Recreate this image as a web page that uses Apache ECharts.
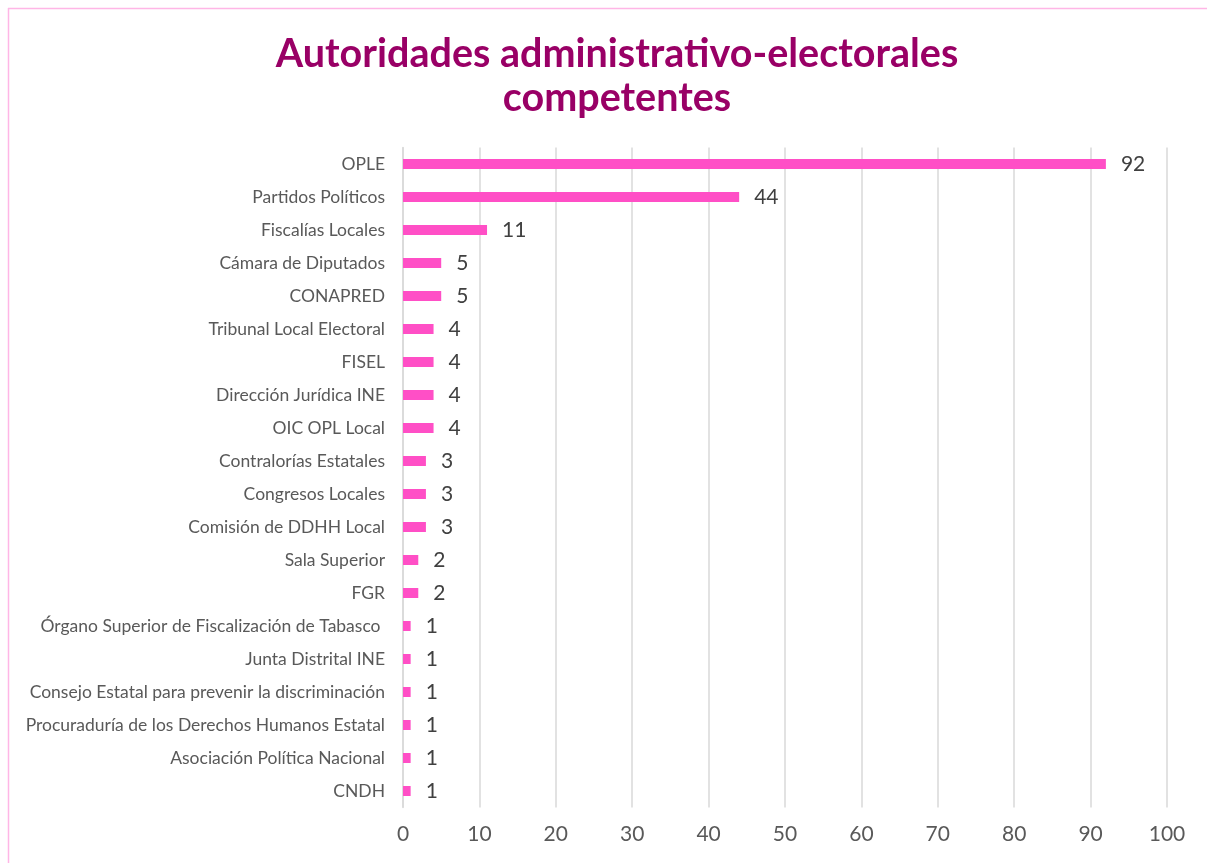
<!DOCTYPE html>
<html>
<head>
<meta charset="utf-8">
<script src="https://cdn.jsdelivr.net/npm/echarts@6/dist/echarts.min.js"></script>
<style>
  html, body { margin: 0; padding: 0; background: #fff; overflow: hidden; }
  #chart { width: 1207px; height: 863px; }
</style>
</head>
<body>
<div id="chart"></div>
<script>
// autoridades, de arriba hacia abajo
var categorias = [
  "OPLE",
  "Partidos Políticos",
  "Fiscalías Locales",
  "Cámara de Diputados",
  "CONAPRED",
  "Tribunal Local Electoral",
  "FISEL",
  "Dirección Jurídica INE",
  "OIC OPL Local",
  "Contralorías Estatales",
  "Congresos Locales",
  "Comisión de DDHH Local",
  "Sala Superior",
  "FGR",
  "Órgano Superior de Fiscalización de Tabasco ",
  "Junta Distrital INE",
  "Consejo Estatal para prevenir la discriminación",
  "Procuraduría de los Derechos Humanos Estatal",
  "Asociación Política Nacional",
  "CNDH"
];
var valores = [92, 44, 11, 5, 5, 4, 4, 4, 4, 3, 3, 3, 2, 2, 1, 1, 1, 1, 1, 1];
var ejeMin = 0, ejeMax = 100, ejeIntervalo = 10;

var fuente = "Lato, 'Open Sans', sans-serif";
var myChart = echarts.init(document.getElementById("chart"));

var option = {
  animation: false,
  title: {
    text: "Autoridades administrativo-electorales\ncompetentes",
    left: 612,
    top: 27,
    textAlign: "center",
    textStyle: {
      color: "#990066",
      fontFamily: fuente,
      fontWeight: "bold",
      fontSize: 39.5,
      lineHeight: 44
    }
  },
  graphic: [
    // borde rosa del area del grafico
    { type: "line", shape: { x1: 8, y1: 8.5, x2: 1207, y2: 8.5 }, style: { stroke: "#FFB6E6", lineWidth: 1.5 } },
    { type: "line", shape: { x1: 8.5, y1: 8, x2: 8.5, y2: 863 }, style: { stroke: "#FFB6E6", lineWidth: 1.5 } }
  ],
  grid: {
    left: 403,
    right: 40,
    top: 147.5,
    bottom: 55.5,
    containLabel: false
  },
  xAxis: {
    type: "value",
    min: ejeMin,
    max: ejeMax,
    interval: ejeIntervalo,
    axisLine: { show: false },
    axisTick: { show: false },
    axisLabel: {
      color: "#595959",
      fontFamily: fuente,
      fontSize: 21,
      margin: 16
    },
    splitLine: {
      lineStyle: { color: "#D9D9D9", width: 1.5 }
    }
  },
  yAxis: {
    type: "category",
    inverse: true,
    data: categorias,
    axisLine: { show: true, lineStyle: { color: "#D9D9D9", width: 1.5 } },
    axisTick: { show: false },
    axisLabel: {
      color: "#595959",
      fontFamily: fuente,
      fontSize: 17.5,
      margin: 18
    }
  },
  series: [
    {
      name: "Autoridades",
      type: "bar",
      data: valores,
      barWidth: 10,
      itemStyle: { color: "#FF4FC6" },
      label: {
        show: true,
        position: "right",
        distance: 15,
        color: "#404040",
        fontFamily: fuente,
        fontSize: 21
      }
    }
  ]
};
myChart.setOption(option);
</script>
</body>
</html>
